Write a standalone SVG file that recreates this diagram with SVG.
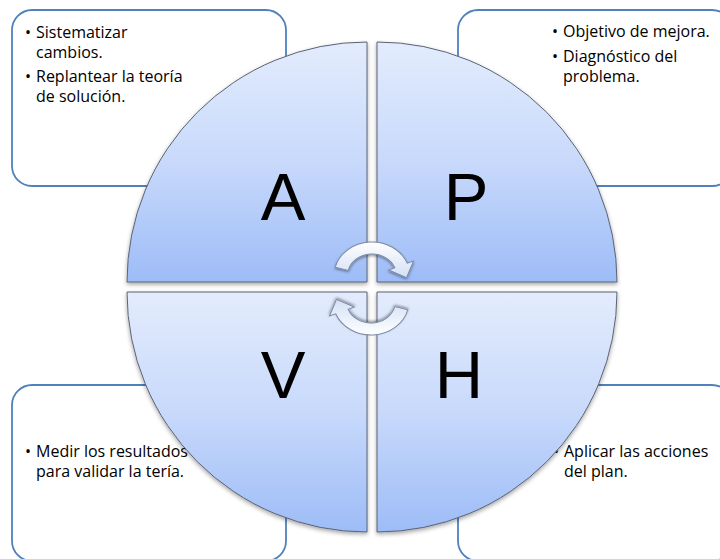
<svg xmlns="http://www.w3.org/2000/svg" width="720" height="559" viewBox="0 0 720 559">
  <defs>
    <linearGradient id="quadFill" x1="0" y1="0" x2="0" y2="1">
      <stop offset="0" stop-color="#e3ecfd"/>
      <stop offset="0.5" stop-color="#c8d9fb"/>
      <stop offset="1" stop-color="#9dbcf7"/>
    </linearGradient>
    <linearGradient id="arrowFill" x1="0" y1="0" x2="0" y2="1">
      <stop offset="0" stop-color="#ffffff"/>
      <stop offset="1" stop-color="#d3e0f6"/>
    </linearGradient>
    <filter id="softShadow" x="-10%" y="-10%" width="120%" height="125%">
      <feDropShadow dx="0" dy="2" stdDeviation="2" flood-color="#000" flood-opacity="0.35"/>
    </filter>
    <filter id="arrowShadow" x="-20%" y="-20%" width="140%" height="150%">
      <feDropShadow dx="0" dy="1.5" stdDeviation="1.2" flood-color="#000" flood-opacity="0.4"/>
    </filter>
    <!-- curved cycle arrow, drawn around a local origin -->
    <path id="cycleArrow" d="M -32.84 -8.80 A 34 34 0 0 1 31.52 -12.74 L 37.09 -14.98 L 30.83 1.56 L 14.84 -5.99 L 20.40 -8.24 A 22 22 0 0 0 -21.25 -5.69 Z"/>
  </defs>
  <style>
    .box { fill: #ffffff; stroke: #4f81bd; stroke-width: 1.8; }
    .txt { font-family: "Open Sans", "Liberation Sans", sans-serif; font-size: 16px; fill: #000000; }
    .quad { fill: url(#quadFill); stroke: #5a6373; stroke-width: 1; filter: url(#softShadow); }
    .big { font-family: "Liberation Sans", "Open Sans", sans-serif; font-size: 67px; fill: #000000; text-anchor: middle; }
    .arrow { fill: url(#arrowFill); stroke: #7d8ba3; stroke-width: 0.9; filter: url(#arrowShadow); }
  </style>

  <rect width="720" height="559" fill="#ffffff"/>

  <!-- text boxes behind the wheel -->
  <g id="box-a">
    <rect class="box" x="12" y="10" width="274" height="176" rx="20" ry="20"/>
    <text class="txt"><tspan x="25" y="37.5">•</tspan><tspan x="36" y="37.5">Sistematizar</tspan><tspan x="36" y="57.5">cambios.</tspan><tspan x="25" y="82">•</tspan><tspan x="36" y="82">Replantear la teoría</tspan><tspan x="36" y="102">de solución.</tspan></text>
  </g>
  <g id="box-p">
    <rect class="box" x="458" y="10" width="274" height="176" rx="20" ry="20"/>
    <text class="txt"><tspan x="552" y="37">•</tspan><tspan x="563" y="37">Objetivo de mejora.</tspan><tspan x="552" y="62">•</tspan><tspan x="563" y="62">Diagnóstico del</tspan><tspan x="563" y="82">problema.</tspan></text>
  </g>
  <g id="box-v">
    <rect class="box" x="12" y="385" width="274" height="176" rx="20" ry="20"/>
    <text class="txt"><tspan x="25" y="457">•</tspan><tspan x="36" y="457">Medir los resultados</tspan><tspan x="36" y="477">para validar la tería.</tspan></text>
  </g>
  <g id="box-h">
    <rect class="box" x="458" y="385" width="274" height="176" rx="20" ry="20"/>
    <text class="txt"><tspan x="553" y="457">•</tspan><tspan x="564" y="457">Aplicar las acciones</tspan><tspan x="564" y="477">del plan.</tspan></text>
  </g>

  <!-- four quarter-circle segments of the wheel -->
  <g id="quad-a">
    <path class="quad" d="M 367 282 L 127 282 A 240 240 0 0 1 367 42 Z"/>
    <text class="big" x="283" y="220">A</text>
  </g>
  <g id="quad-p">
    <path class="quad" d="M 377 282 L 377 42 A 240 240 0 0 1 617 282 Z"/>
    <text class="big" x="466" y="220">P</text>
  </g>
  <g id="quad-v">
    <path class="quad" d="M 367 292 L 367 532 A 240 240 0 0 1 127 292 Z"/>
    <text class="big" x="283" y="398">V</text>
  </g>
  <g id="quad-h">
    <path class="quad" d="M 377 292 L 617 292 A 240 240 0 0 1 377 532 Z"/>
    <text class="big" x="459" y="398">H</text>
  </g>

  <!-- cycle arrows in the centre -->
  <g id="connectors">
    <use href="#cycleArrow" class="arrow" transform="translate(372 276) scale(1.12 1)"/>
    <use href="#cycleArrow" class="arrow" transform="translate(371 301) scale(1.12 1) rotate(180)"/>
  </g>
</svg>
